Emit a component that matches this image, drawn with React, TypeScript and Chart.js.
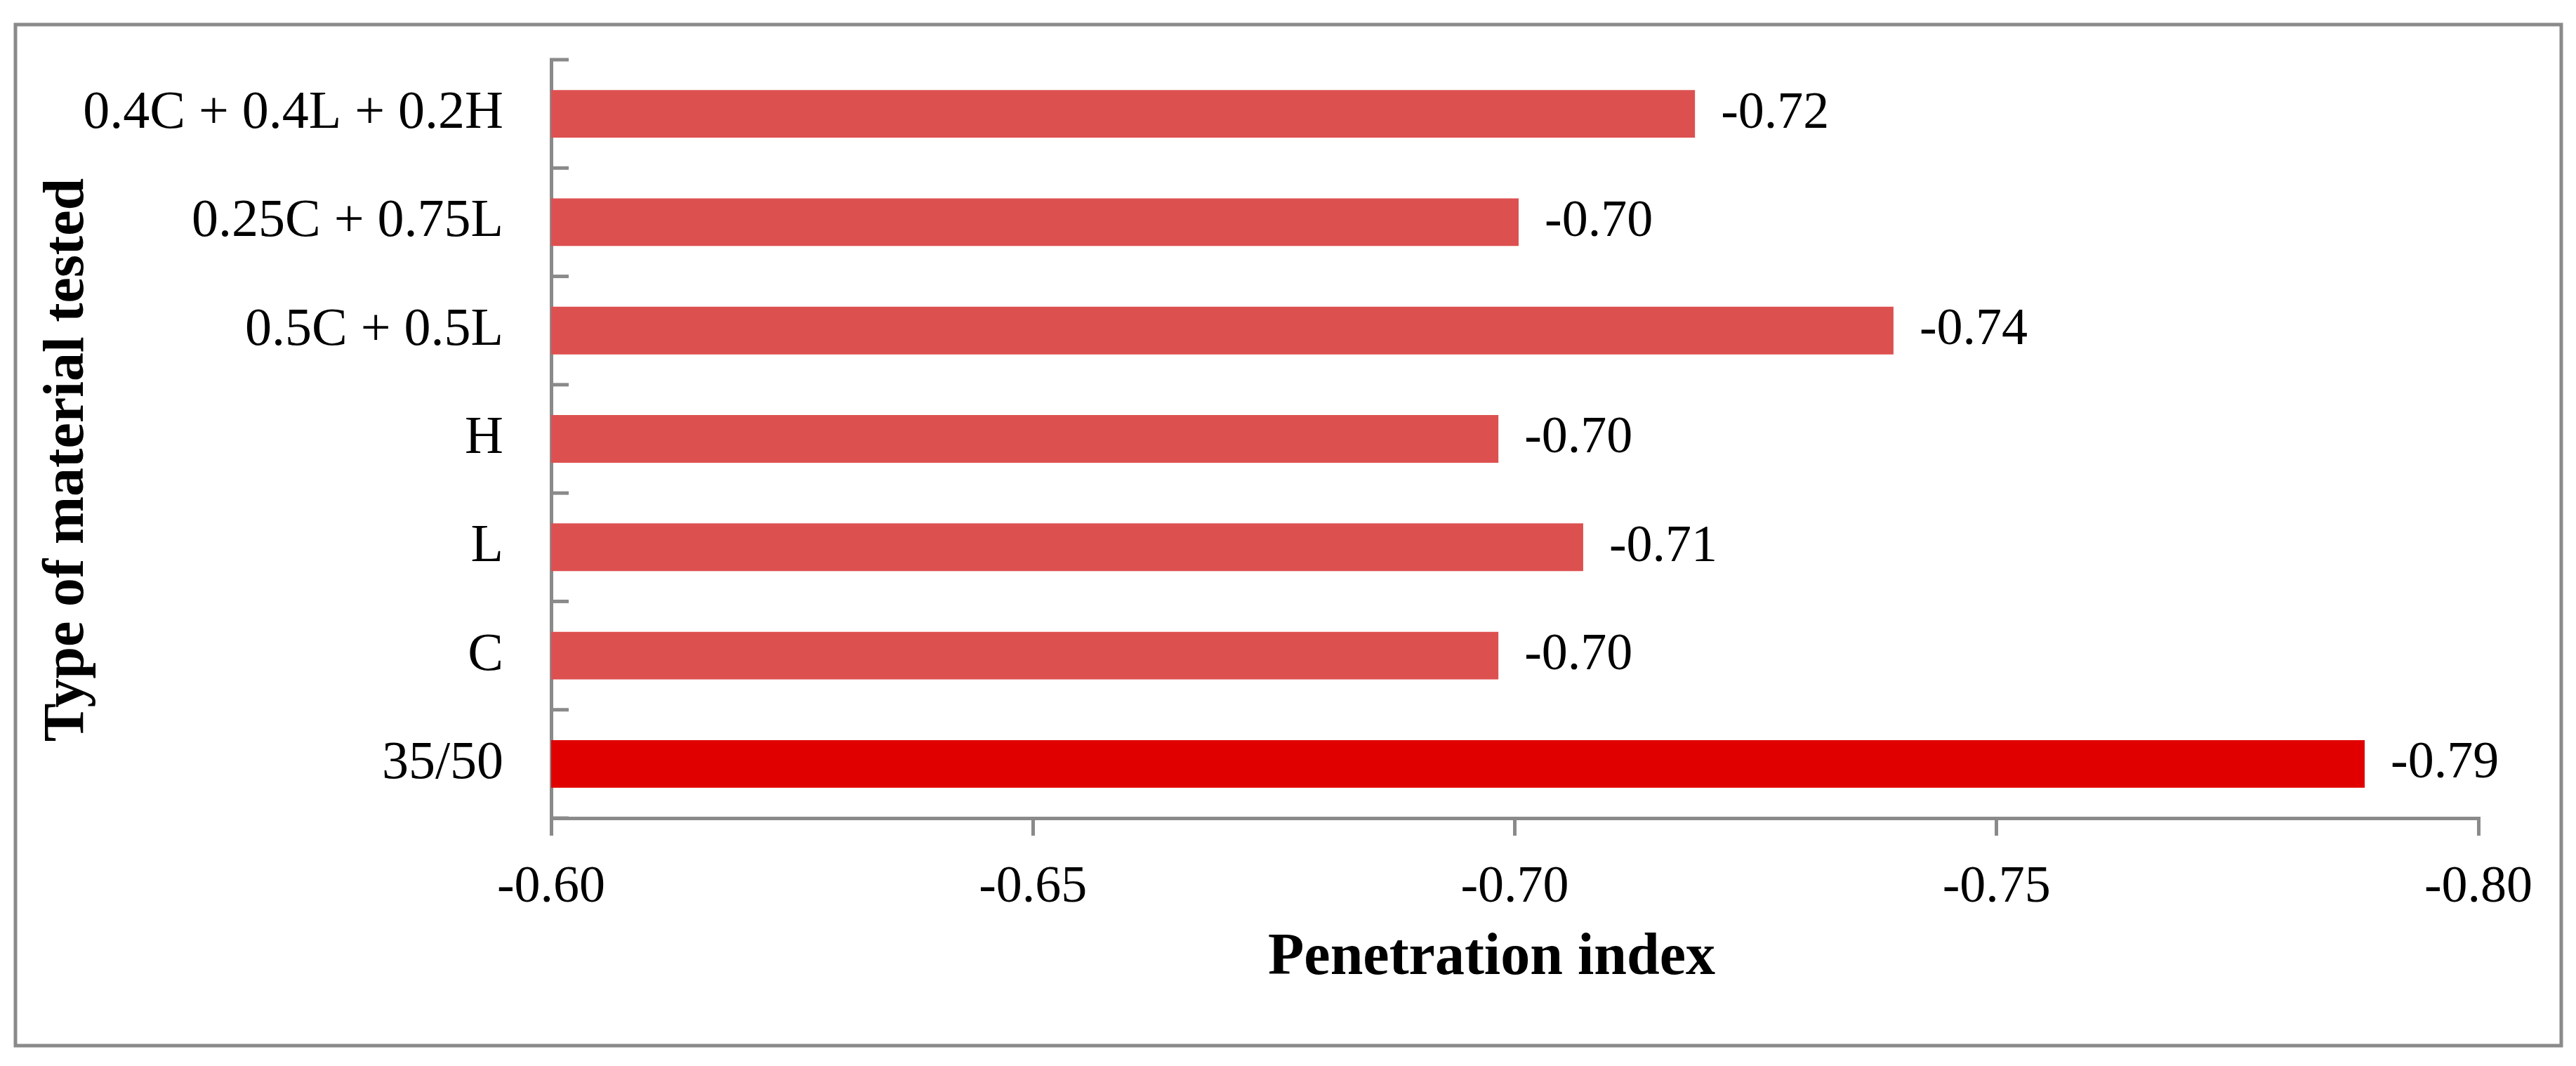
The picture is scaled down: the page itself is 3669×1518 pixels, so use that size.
import React, { useEffect, useRef } from 'react';
import { Chart, registerables } from 'chart.js';

Chart.register(...registerables);

const categories = ['0.4C + 0.4L + 0.2H', '0.25C + 0.75L', '0.5C + 0.5L', 'H', 'L', 'C', '35/50'];
const penetrationIndex = [-0.7187, -0.7004, -0.7393, -0.6983, -0.7071, -0.6983, -0.7882];
const barColors = ['#DD5050', '#DD5050', '#DD5050', '#DD5050', '#DD5050', '#DD5050', '#E00000'];
const xTickValues = [-0.6, -0.65, -0.7, -0.75, -0.8];
const xTitle = 'Penetration index';
const yTitle = 'Type of material tested';

const W = 3669;
const H = 1518;
const GRAY = '#8A8A8A';
const SERIF = '"Liberation Serif", "Times New Roman", serif';

const framePlugin = {
  id: 'frame',
  beforeDraw(chart: any) {
    const ctx = chart.ctx;
    ctx.save();
    ctx.fillStyle = '#ffffff';
    ctx.fillRect(0, 0, chart.width, chart.height);
    ctx.strokeStyle = GRAY;
    ctx.lineWidth = 5;
    ctx.strokeRect(22, 35, 3626, 1454);
    ctx.restore();
  },
};

const insideTicksPlugin = {
  id: 'insideTicks',
  afterDraw(chart: any) {
    const y = chart.scales.y;
    const ctx = chart.ctx;
    const left = chart.chartArea.left;
    ctx.save();
    ctx.strokeStyle = GRAY;
    ctx.lineWidth = 5;
    for (let i = 0; i <= categories.length; i++) {
      const py = y.getPixelForValue(i - 0.5);
      ctx.beginPath();
      ctx.moveTo(left - 2, py);
      ctx.lineTo(left + 25, py);
      ctx.stroke();
    }
    ctx.restore();
  },
};

const dataLabelsPlugin = {
  id: 'dataLabels',
  afterDatasetsDraw(chart: any) {
    const ctx = chart.ctx;
    const meta = chart.getDatasetMeta(0);
    ctx.save();
    ctx.font = `74px ${SERIF}`;
    ctx.fillStyle = '#000000';
    ctx.textAlign = 'left';
    ctx.textBaseline = 'middle';
    meta.data.forEach((bar: any, i: number) => {
      ctx.fillText(penetrationIndex[i].toFixed(2), bar.x + 37, bar.y);
    });
    ctx.restore();
  },
};

const titlesPlugin = {
  id: 'axisTitles',
  afterDraw(chart: any) {
    const ctx = chart.ctx;
    const area = chart.chartArea;
    ctx.save();
    ctx.fillStyle = '#000000';
    ctx.textAlign = 'center';
    ctx.textBaseline = 'middle';
    ctx.font = `bold 84px ${SERIF}`;
    ctx.fillText(xTitle, (area.left + area.right) / 2 - 33, area.bottom + 200);
    ctx.font = `bold 82px ${SERIF}`;
    ctx.translate(97, (area.top + area.bottom) / 2 + 30);
    ctx.rotate(-Math.PI / 2);
    ctx.fillText(yTitle, 0, 0);
    ctx.restore();
  },
};

export default function App() {
  const canvasRef = useRef<HTMLCanvasElement | null>(null);

  useEffect(() => {
    const canvas = canvasRef.current;
    if (!canvas) return;
    const chart = new Chart(canvas, {
      type: 'bar',
      data: {
        labels: categories,
        datasets: [
          {
            data: penetrationIndex,
            backgroundColor: barColors,
            borderWidth: 0,
            barPercentage: 0.44,
            categoryPercentage: 1.0,
          },
        ],
      },
      options: {
        indexAxis: 'y',
        animation: false,
        responsive: false,
        maintainAspectRatio: false,
        devicePixelRatio: 1,
        layout: { padding: { left: 48, top: 85, right: 139, bottom: 103 } },
        plugins: {
          legend: { display: false },
          tooltip: { enabled: false },
          title: { display: false },
        },
        scales: {
          x: {
            type: 'linear',
            reverse: true,
            min: -0.8,
            max: -0.6,
            afterBuildTicks: (s: any) => {
              s.ticks = xTickValues.map((v) => ({ value: v }));
            },
            afterFit: (s: any) => {
              s.height = 250;
            },
            ticks: {
              callback: (v: any) => Number(v).toFixed(2),
              font: { family: SERIF, size: 74 },
              color: '#000000',
              padding: 30,
              maxRotation: 0,
              autoSkip: false,
            },
            grid: {
              display: true,
              drawOnChartArea: false,
              drawTicks: true,
              tickLength: 25,
              color: GRAY,
              lineWidth: 5,
            },
            border: { display: true, color: GRAY, width: 5 },
          },
          y: {
            type: 'category',
            afterFit: (s: any) => {
              s.width = 737;
              s.paddingTop = 0;
              s.paddingBottom = 0;
            },
            ticks: {
              font: { family: SERIF, size: 76 },
              color: '#000000',
              padding: 60,
              autoSkip: false,
            },
            grid: { display: false },
            border: { display: true, color: GRAY, width: 5 },
          },
        },
      },
      plugins: [framePlugin, insideTicksPlugin, dataLabelsPlugin, titlesPlugin],
    } as any);
    return () => chart.destroy();
  }, []);

  return (
    <div style={{ position: 'fixed', left: 0, top: 0, width: W, height: H, background: '#fff' }}>
      <canvas ref={canvasRef} width={W} height={H} style={{ width: W, height: H, display: 'block' }} />
    </div>
  );
}
